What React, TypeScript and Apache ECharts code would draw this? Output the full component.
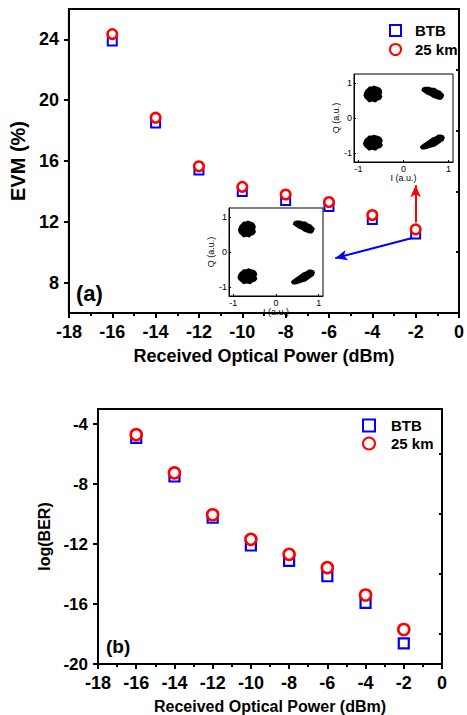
import React, { useEffect, useRef } from 'react';
import * as echarts from 'echarts';

// ---- data ----
const powers = [-16, -14, -12, -10, -8, -6, -4, -2];
const evmBTB = [23.9, 18.5, 15.4, 14.0, 13.4, 13.0, 12.15, 11.2];
const evm25km = [24.35, 18.85, 15.65, 14.3, 13.8, 13.3, 12.45, 11.5];
const berBTB = [-4.93, -7.5, -10.25, -12.1, -13.13, -14.15, -15.93, -18.63];
const ber25km = [-4.71, -7.26, -10.05, -11.69, -12.69, -13.57, -15.4, -17.7];

const evmTicks = [8, 12, 16, 20, 24];
const evmMinorTicks = [10, 14, 18, 22];
const berTicks = [-20, -16, -12, -8, -4];
const berMinorTicks = [-18, -14, -10, -6];
const iqTicks = [-1, 0, 1];

// constellation cluster centres (I, Q)
const constellationUpper = [[-0.68, 0.68], [0.65, 0.7], [-0.68, -0.7], [0.64, -0.68]];
const constellationLower = [[-0.68, 0.65], [0.65, 0.71], [-0.67, -0.69], [0.63, -0.71]];

// arrows (power, EVM)
const redArrow = [[-2, 11.95], [-2, 14.4]];
const blueArrow = [[-2.16, 10.93], [-5.71, 9.61]];

const FONT = "'Liberation Sans', Arial, sans-serif";
const BLUE = '#0000ff';
const RED = '#ff0000';

const BLOB_ROUND =
  'path://M4,3 L6,1 L9,1 L11,0 L14,1 L17,2 L19,4 L20,7 L19,9 L20,12 L18,15 L15,16 L13,18 L9,17 L6,18 L3,15 L1,13 L0,10 L1,7 L2,5 Z';
const BLOB_DOWN =
  'path://M1,1 L4,0 L8,0 L11,1 L14,1 L17,3 L20,4 L22,6 L24,8 L23,11 L21,13 L18,13 L15,12 L12,11 L9,9 L6,8 L3,6 L0,4 Z';
const BLOB_UP =
  'path://M0,13 L1,11 L4,9 L7,7 L10,5 L13,3 L16,2 L19,0 L22,0 L25,1 L26,3 L25,6 L22,8 L19,10 L16,12 L12,13 L9,14 L5,15 L2,15 Z';
const blobSymbols = [BLOB_ROUND, BLOB_DOWN, BLOB_ROUND, BLOB_UP];
const blobSizesUpper = [[19, 17], [23, 13], [20, 16], [25, 15]];
const blobSizesLower = [[18, 17], [22, 13], [20, 16], [24, 15]];

const black = '#000';

function mainX(gridIndex: number, labelSize: number, nameSize: number) {
  return {
    type: 'value',
    gridIndex,
    min: -18,
    max: 0,
    interval: 2,
    axisLine: { show: true, onZero: false, lineStyle: { color: black, width: 2 } },
    axisTick: { show: true, length: 5, lineStyle: { color: black, width: 2 } },
    minorTick: { show: true, splitNumber: 2, length: 3, lineStyle: { color: black, width: 2 } },
    splitLine: { show: false },
    minorSplitLine: { show: false },
    axisLabel: { margin: 10, fontSize: labelSize, fontWeight: 'bold', color: black, fontFamily: FONT },
    name: 'Received Optical Power (dBm)',
    nameLocation: 'middle',
    nameGap: 34,
    nameTextStyle: { fontSize: nameSize, fontWeight: 'bold', color: black, fontFamily: FONT },
  };
}

function mainY(gridIndex: number, min: number, max: number, ticks: number[], name: string, nameSize: number, nameGap: number, labelSize: number) {
  return {
    type: 'value',
    gridIndex,
    min,
    max,
    position: 'left',
    axisLine: { show: true, onZero: false, lineStyle: { color: black, width: 2 } },
    axisTick: { show: true, length: 5, customValues: ticks, lineStyle: { color: black, width: 2 } },
    axisLabel: { customValues: ticks, margin: 10, fontSize: labelSize, fontWeight: 'bold', color: black, fontFamily: FONT },
    splitLine: { show: false },
    name,
    nameLocation: 'middle',
    nameGap,
    nameTextStyle: { fontSize: nameSize, fontWeight: 'bold', color: black, fontFamily: FONT },
  };
}

function minorY(gridIndex: number, min: number, max: number, ticks: number[]) {
  return {
    type: 'value',
    gridIndex,
    min,
    max,
    position: 'left',
    axisLine: { show: false },
    axisTick: { show: true, length: 3, customValues: ticks, lineStyle: { color: black, width: 2 } },
    axisLabel: { show: false },
    splitLine: { show: false },
  };
}

function insetX(gridIndex: number) {
  return {
    type: 'value',
    gridIndex,
    min: -1.1,
    max: 1.1,
    axisLine: { show: true, onZero: false, lineStyle: { color: black, width: 1 } },
    axisTick: { show: true, inside: true, length: 2, customValues: iqTicks, lineStyle: { color: black } },
    axisLabel: { customValues: iqTicks, margin: 2, fontSize: 9, color: black, fontFamily: FONT },
    splitLine: { show: false },
    name: 'I (a.u.)',
    nameLocation: 'middle',
    nameGap: 8,
    nameTextStyle: { fontSize: 9, color: black, fontFamily: FONT },
  };
}

function insetY(gridIndex: number) {
  return {
    type: 'value',
    gridIndex,
    min: -1.25,
    max: 1.25,
    position: 'left',
    axisLine: { show: true, onZero: false, lineStyle: { color: black, width: 1 } },
    axisTick: { show: true, inside: true, length: 2, customValues: iqTicks, lineStyle: { color: black } },
    axisLabel: { customValues: iqTicks, margin: 2, fontSize: 9, color: black, fontFamily: FONT },
    splitLine: { show: false },
    name: 'Q (a.u.)',
    nameLocation: 'middle',
    nameGap: 9,
    nameTextStyle: { fontSize: 9, color: black, fontFamily: FONT },
  };
}

function clusterSeries(idx: number, centres: number[][], sizes: number[][]) {
  return {
    type: 'scatter',
    name: 'constellation' + idx,
    xAxisIndex: idx,
    yAxisIndex: idx,
    silent: true,
    z: 5,
    data: centres.map((c, i) => ({ value: c, symbol: blobSymbols[i], symbolSize: sizes[i] })),
    itemStyle: { color: '#000', opacity: 1 },
  };
}

export default function App() {
  const ref = useRef<HTMLDivElement>(null);
  useEffect(() => {
    if (!ref.current) return;
    const chart = echarts.init(ref.current, undefined, { renderer: 'svg' });
    const legendTextA = { fontSize: 15, fontWeight: 'bold', color: black, fontFamily: FONT, padding: [0, 0, 0, 9] };
    const legendTextB = { fontSize: 15, fontWeight: 'bold', color: black, fontFamily: FONT, padding: [0, 0, 0, 11] };
    chart.setOption({
      animation: false,
      backgroundColor: '#fff',
      title: [
        { text: '(a)', left: 76, top: 282, padding: 0, textStyle: { fontSize: 22, fontWeight: 'bold', color: black, fontFamily: FONT } },
        { text: '(b)', left: 106, top: 637, padding: 0, textStyle: { fontSize: 19, fontWeight: 'bold', color: black, fontFamily: FONT } },
      ],
      legend: [
        {
          data: ['BTB', '25 km'], orient: 'vertical', left: 389, top: 23, padding: 0,
          itemWidth: 11, itemHeight: 11, itemGap: 4, selectedMode: false, textStyle: legendTextA,
        },
        {
          data: ['BTB', '25 km'], orient: 'vertical', left: 362, top: 418, padding: 0,
          itemWidth: 12, itemHeight: 12, itemGap: 3, selectedMode: false, textStyle: legendTextB,
        },
      ],
      grid: [
        { left: 65, top: 9, width: 400, height: 304, show: true, borderColor: black, borderWidth: 2, backgroundColor: 'transparent' },
        { left: 98, top: 409, width: 344, height: 255, show: true, borderColor: black, borderWidth: 2, backgroundColor: 'transparent' },
        { left: 354, top: 74, width: 99, height: 88, show: true, borderColor: black, borderWidth: 1, backgroundColor: '#fff' },
        { left: 229, top: 208, width: 94, height: 88, show: true, borderColor: black, borderWidth: 1, backgroundColor: '#fff' },
      ],
      xAxis: [mainX(0, 18, 18), mainX(1, 18, 16), insetX(2), insetX(3)],
      yAxis: [
        mainY(0, 6, 26, evmTicks, 'EVM (%)', 20, 33, 18),
        mainY(1, -20, -3, berTicks, 'log(BER)', 16, 41, 17),
        insetY(2),
        insetY(3),
        minorY(0, 6, 26, evmMinorTicks),
        minorY(1, -20, -3, berMinorTicks),
      ],
      series: [
        {
          type: 'scatter', name: 'BTB', xAxisIndex: 0, yAxisIndex: 0, z: 2,
          symbol: 'rect', symbolSize: 9,
          itemStyle: { color: '#fff', borderColor: BLUE, borderWidth: 2, opacity: 1 },
          data: powers.map((p, i) => [p, evmBTB[i]]),
        },
        {
          type: 'scatter', name: '25 km', xAxisIndex: 0, yAxisIndex: 0, z: 3,
          symbol: 'circle', symbolSize: 9.5,
          itemStyle: { color: '#fff', borderColor: RED, borderWidth: 2.5, opacity: 1 },
          data: powers.map((p, i) => [p, evm25km[i]]),
        },
        {
          type: 'scatter', name: 'BTB', xAxisIndex: 1, yAxisIndex: 1, z: 2,
          symbol: 'rect', symbolSize: 10,
          itemStyle: { color: '#fff', borderColor: BLUE, borderWidth: 2.2, opacity: 1 },
          data: powers.map((p, i) => [p, berBTB[i]]),
        },
        {
          type: 'scatter', name: '25 km', xAxisIndex: 1, yAxisIndex: 1, z: 3,
          symbol: 'circle', symbolSize: 11,
          itemStyle: { color: '#fff', borderColor: RED, borderWidth: 2.6, opacity: 1 },
          data: powers.map((p, i) => [p, ber25km[i]]),
        },
        {
          type: 'scatter', name: 'arrows', xAxisIndex: 0, yAxisIndex: 0, data: [],
          markLine: {
            silent: true,
            symbol: ['none', 'arrow'],
            symbolSize: [8, 12],
            label: { show: false },
            emphasis: { disabled: true },
            data: [
              [
                { coord: redArrow[0], lineStyle: { color: RED, width: 2, type: 'solid' }, itemStyle: { color: RED } },
                { coord: redArrow[1] },
              ],
              [
                { coord: blueArrow[0], lineStyle: { color: BLUE, width: 2, type: 'solid' }, itemStyle: { color: BLUE } },
                { coord: blueArrow[1] },
              ],
            ],
          },
        },
        clusterSeries(2, constellationUpper, blobSizesUpper),
        clusterSeries(3, constellationLower, blobSizesLower),
      ],
    });
    return () => chart.dispose();
  }, []);
  return <div ref={ref} style={{ position: 'absolute', left: 0, top: 0, width: 467, height: 715 }} />;
}
